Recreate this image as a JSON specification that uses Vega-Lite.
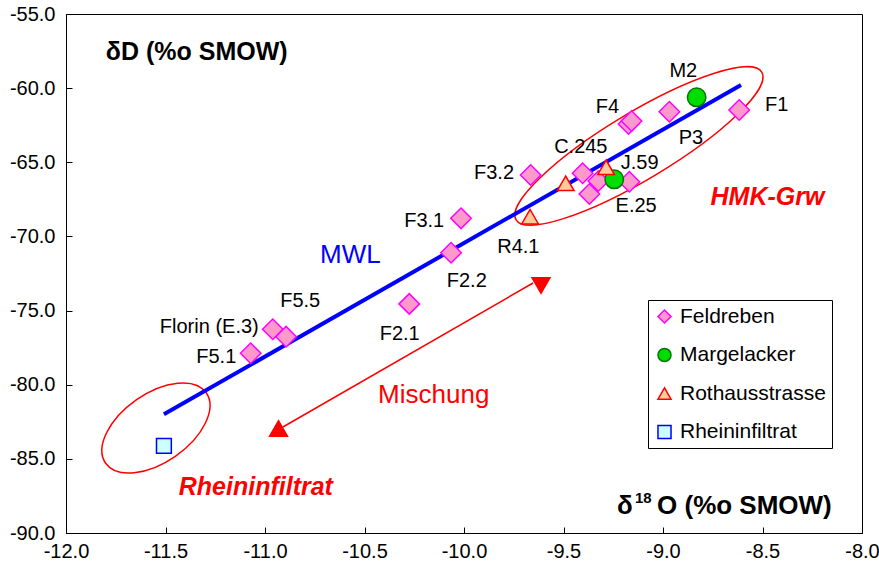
{
  "$schema": "https://vega.github.io/schema/vega-lite/v6.json",
  "width": 796,
  "height": 519,
  "autosize": "none",
  "padding": {"left": 66, "top": 14, "right": 17, "bottom": 44},
  "background": "white",
  "config": {
    "font": "Liberation Sans",
    "locale": {"number": {"decimal": ".", "thousands": ",", "grouping": [3], "currency": ["", ""], "minus": "-"}},
    "view": {"stroke": "black", "strokeWidth": 1},
    "axis": {"grid": false, "domainColor": "black", "tickColor": "black", "labelColor": "black", "labelFontSize": 20, "labelFont": "Liberation Sans", "tickSize": -6, "labelFlush": false, "labelOverlap": false},
    "legend": {"orient": "none", "legendX": 582, "legendY": 286, "strokeColor": "black", "fillColor": "white", "padding": 6, "labelFontSize": 21, "labelFont": "Liberation Sans", "labelColor": "black", "symbolSize": 170, "rowPadding": 16.5, "labelOffset": 5, "symbolStrokeWidth": 1.5, "symbolOpacity": 1, "titleLimit": 0}
  },
  "datasets": {
    "samples": [
      {"series": "Feldreben", "x": -8.617, "y": -61.47},
      {"series": "Feldreben", "x": -8.968, "y": -61.59},
      {"series": "Feldreben", "x": -9.173, "y": -62.42},
      {"series": "Feldreben", "x": -9.158, "y": -62.22},
      {"series": "Feldreben", "x": -9.665, "y": -65.86},
      {"series": "Feldreben", "x": -9.404, "y": -65.74},
      {"series": "Feldreben", "x": -9.325, "y": -66.26},
      {"series": "Feldreben", "x": -9.37, "y": -67.14},
      {"series": "Feldreben", "x": -9.169, "y": -66.31},
      {"series": "Feldreben", "x": -10.015, "y": -68.78},
      {"series": "Feldreben", "x": -10.065, "y": -71.1},
      {"series": "Feldreben", "x": -10.275, "y": -74.55},
      {"series": "Feldreben", "x": -10.961, "y": -76.26},
      {"series": "Feldreben", "x": -10.894, "y": -76.76},
      {"series": "Feldreben", "x": -11.072, "y": -77.88},
      {"series": "Margelacker", "x": -8.831, "y": -60.62},
      {"series": "Margelacker", "x": -9.245, "y": -66.15},
      {"series": "Rothausstrasse", "x": -9.489, "y": -66.42},
      {"series": "Rothausstrasse", "x": -9.286, "y": -65.34},
      {"series": "Rothausstrasse", "x": -9.668, "y": -68.67},
      {"series": "Rheininfiltrat", "x": -11.508, "y": -84.13}
    ]
  },
  "encoding": {
    "x": {"field": "x", "type": "quantitative", "scale": {"domain": [-12, -8], "nice": false, "zero": false},
      "axis": {"values": [-12, -11.5, -11, -10.5, -10, -9.5, -9, -8.5, -8], "format": ".1f", "title": null, "labelPadding": 14}},
    "y": {"field": "y", "type": "quantitative", "scale": {"domain": [-90, -55], "nice": false, "zero": false},
      "axis": {"values": [-90, -85, -80, -75, -70, -65, -60, -55], "format": ".1f", "title": null, "labelPadding": 17}}
  },
  "layer": [
    {
      "data": {"values": [{"x": -9.121, "y": -63.9}]},
      "mark": {"type": "point", "shape": "M-1,0A1,0.233,0,1,0,1,0A1,0.233,0,1,0,-1,0Z", "size": 82140, "angle": 329, "stroke": "#FF0000", "strokeWidth": 1.5, "filled": false, "opacity": 1},
      "encoding": {}
    },
    {
      "data": {"values": [{"x": -11.548, "y": -82.92}]},
      "mark": {"type": "point", "shape": "M-1,0A1,0.559,0,1,0,1,0A1,0.559,0,1,0,-1,0Z", "size": 15080, "angle": 325, "stroke": "#FF0000", "strokeWidth": 1.5, "filled": false, "opacity": 1},
      "encoding": {}
    },
    {
      "data": {"values": [{"x": -11.508, "y": -81.99}, {"x": -8.608, "y": -59.79}]},
      "mark": {"type": "line", "color": "#0000FF", "strokeWidth": 4},
      "encoding": {}
    },
    {
      "data": {"values": [{"x": -9.653, "y": -73.14}, {"x": -10.91, "y": -82.85}]},
      "mark": {"type": "line", "color": "#FF0000", "strokeWidth": 1.5},
      "encoding": {}
    },
    {
      "data": {"values": [{"x": -9.613, "y": -73.34}]},
      "mark": {"type": "point", "shape": "triangle-down", "size": 420, "filled": true, "color": "#FF0000", "opacity": 1},
      "encoding": {}
    },
    {
      "data": {"values": [{"x": -10.932, "y": -82.92}]},
      "mark": {"type": "point", "shape": "triangle-up", "size": 420, "filled": true, "color": "#FF0000", "opacity": 1},
      "encoding": {}
    },
    {
      "data": {"name": "samples"},
      "transform": [{"filter": "datum.series === 'Feldreben'"}],
      "mark": {"type": "point", "filled": true, "opacity": 1, "strokeWidth": 1.5, "size": 420},
      "encoding": {
        "shape": {"field": "series", "type": "nominal", "title": null, "scale": {"domain": ["Feldreben", "Margelacker", "Rothausstrasse", "Rheininfiltrat"], "range": ["diamond", "circle", "triangle-up", "square"]}},
        "fill": {"field": "series", "type": "nominal", "title": null, "scale": {"domain": ["Feldreben", "Margelacker", "Rothausstrasse", "Rheininfiltrat"], "range": ["#FF99CC", "#00DD00", "#FFCC99", "#CCFFFF"]}},
        "stroke": {"field": "series", "type": "nominal", "title": null, "scale": {"domain": ["Feldreben", "Margelacker", "Rothausstrasse", "Rheininfiltrat"], "range": ["#FF00FF", "#007700", "#FF0000", "#0000FF"]}}
      }
    },
    {
      "data": {"name": "samples"},
      "transform": [{"filter": "datum.series === 'Margelacker'"}],
      "mark": {"type": "point", "filled": true, "opacity": 1, "strokeWidth": 1.5, "size": 340},
      "encoding": {
        "shape": {"field": "series", "type": "nominal", "title": null, "scale": {"domain": ["Feldreben", "Margelacker", "Rothausstrasse", "Rheininfiltrat"], "range": ["diamond", "circle", "triangle-up", "square"]}},
        "fill": {"field": "series", "type": "nominal", "title": null, "scale": {"domain": ["Feldreben", "Margelacker", "Rothausstrasse", "Rheininfiltrat"], "range": ["#FF99CC", "#00DD00", "#FFCC99", "#CCFFFF"]}},
        "stroke": {"field": "series", "type": "nominal", "title": null, "scale": {"domain": ["Feldreben", "Margelacker", "Rothausstrasse", "Rheininfiltrat"], "range": ["#FF00FF", "#007700", "#FF0000", "#0000FF"]}}
      }
    },
    {
      "data": {"name": "samples"},
      "transform": [{"filter": "datum.series === 'Rothausstrasse'"}],
      "mark": {"type": "point", "filled": true, "opacity": 1, "strokeWidth": 1.5, "size": 280},
      "encoding": {
        "shape": {"field": "series", "type": "nominal", "title": null, "scale": {"domain": ["Feldreben", "Margelacker", "Rothausstrasse", "Rheininfiltrat"], "range": ["diamond", "circle", "triangle-up", "square"]}},
        "fill": {"field": "series", "type": "nominal", "title": null, "scale": {"domain": ["Feldreben", "Margelacker", "Rothausstrasse", "Rheininfiltrat"], "range": ["#FF99CC", "#00DD00", "#FFCC99", "#CCFFFF"]}},
        "stroke": {"field": "series", "type": "nominal", "title": null, "scale": {"domain": ["Feldreben", "Margelacker", "Rothausstrasse", "Rheininfiltrat"], "range": ["#FF00FF", "#007700", "#FF0000", "#0000FF"]}}
      }
    },
    {
      "data": {"name": "samples"},
      "transform": [{"filter": "datum.series === 'Rheininfiltrat'"}],
      "mark": {"type": "point", "filled": true, "opacity": 1, "strokeWidth": 1.5, "size": 220},
      "encoding": {
        "shape": {"field": "series", "type": "nominal", "title": null, "scale": {"domain": ["Feldreben", "Margelacker", "Rothausstrasse", "Rheininfiltrat"], "range": ["diamond", "circle", "triangle-up", "square"]}},
        "fill": {"field": "series", "type": "nominal", "title": null, "scale": {"domain": ["Feldreben", "Margelacker", "Rothausstrasse", "Rheininfiltrat"], "range": ["#FF99CC", "#00DD00", "#FFCC99", "#CCFFFF"]}},
        "stroke": {"field": "series", "type": "nominal", "title": null, "scale": {"domain": ["Feldreben", "Margelacker", "Rothausstrasse", "Rheininfiltrat"], "range": ["#FF00FF", "#007700", "#FF0000", "#0000FF"]}}
      }
    },
    {
      "data": {"values": [
        {"label": "M2", "x": -8.898, "y": -58.83},
        {"label": "F4", "x": -9.279, "y": -61.3},
        {"label": "F1", "x": -8.429, "y": -61.14},
        {"label": "P3", "x": -8.86, "y": -63.33},
        {"label": "C.245", "x": -9.413, "y": -63.97},
        {"label": "J.59", "x": -9.117, "y": -65.07},
        {"label": "E.25", "x": -9.135, "y": -67.93},
        {"label": "F3.2", "x": -9.849, "y": -65.74},
        {"label": "F3.1", "x": -10.2, "y": -68.94},
        {"label": "R4.1", "x": -9.727, "y": -70.69},
        {"label": "F2.2", "x": -9.986, "y": -72.98},
        {"label": "F5.5", "x": -10.823, "y": -74.34},
        {"label": "F2.1", "x": -10.323, "y": -76.61},
        {"label": "Florin (E.3)", "x": -11.28, "y": -76.12},
        {"label": "F5.1", "x": -11.245, "y": -78.16}
      ]},
      "mark": {"type": "text", "fontSize": 20, "color": "black", "align": "center", "baseline": "middle"},
      "encoding": {"text": {"field": "label"}}
    },
    {
      "data": {"values": [{"label": "MWL", "x": -10.571, "y": -71.27}]},
      "mark": {"type": "text", "fontSize": 26, "color": "#0000FF", "align": "center", "baseline": "middle"},
      "encoding": {"text": {"field": "label"}}
    },
    {
      "data": {"values": [{"label": "Mischung", "x": -10.152, "y": -80.69}]},
      "mark": {"type": "text", "fontSize": 26, "color": "#FF0000", "align": "center", "baseline": "middle"},
      "encoding": {"text": {"field": "label"}}
    },
    {
      "data": {"values": [{"label": "HMK-Grw", "x": -8.475, "y": -67.34}, {"label": "Rheininfiltrat", "x": -11.046, "y": -86.87}]},
      "mark": {"type": "text", "fontSize": 25, "fontWeight": "bold", "fontStyle": "italic", "color": "#FF0000", "align": "center", "baseline": "middle"},
      "encoding": {"text": {"field": "label"}}
    },
    {
      "data": {"values": [{"label": "δD (%o SMOW)", "x": -11.8, "y": -57.56}]},
      "mark": {"type": "text", "fontSize": 25, "fontWeight": "bold", "color": "black", "align": "left", "baseline": "middle"},
      "encoding": {"text": {"field": "label"}}
    },
    {
      "data": {"values": [{"label": "δ", "x": -9.231, "y": -88.2}, {"label": "O (%o SMOW)", "x": -9.03, "y": -88.2}]},
      "mark": {"type": "text", "fontSize": 26, "fontWeight": "bold", "color": "black", "align": "left", "baseline": "middle"},
      "encoding": {"text": {"field": "label"}}
    },
    {
      "data": {"values": [{"label": "18", "x": -9.141, "y": -87.62}]},
      "mark": {"type": "text", "fontSize": 15, "fontWeight": "bold", "color": "black", "align": "left", "baseline": "middle"},
      "encoding": {"text": {"field": "label"}}
    }
  ]
}
